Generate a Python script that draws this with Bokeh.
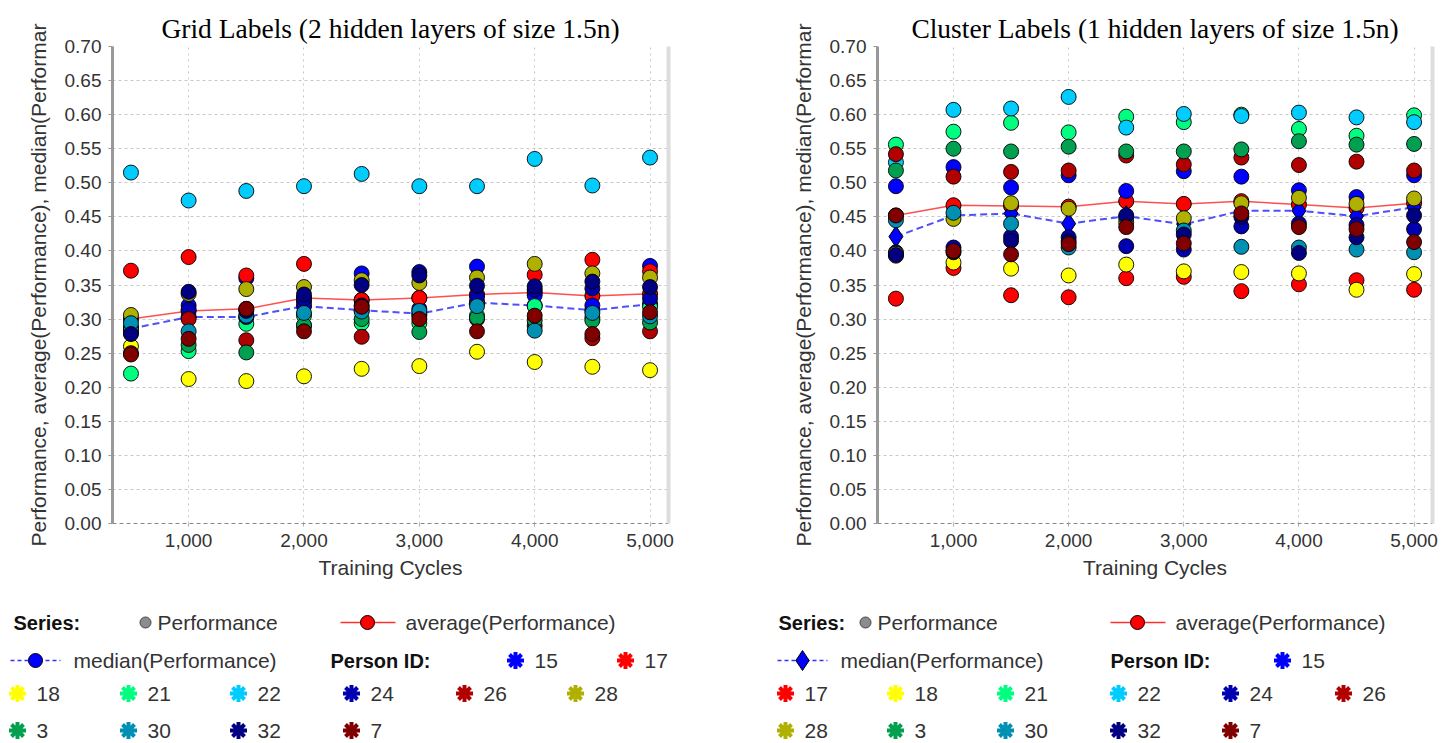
from bokeh.plotting import figure
from bokeh.layouts import row, column
from bokeh.models import Range1d, LinearAxis, FixedTicker, NumeralTickFormatter
from bokeh.core.properties import value
from bokeh.embed import file_html
from bokeh.resources import INLINE

# ---------------- data ----------------
cycles = [500, 1000, 1500, 2000, 2500, 3000, 3500, 4000, 4500, 5000]
persons = ["15", "17", "18", "21", "22", "24", "26", "28", "3", "30", "32", "7"]
person_colors = ["#0000ff", "#ff0000", "#ffff00", "#00ff80", "#00ccff", "#0000b0",
                 "#b00000", "#b0b000", "#00a050", "#0090b4", "#000080", "#800000"]

# Grid Labels (2 hidden layers)
g15 = [0.288, 0.320, 0.360, 0.325, 0.367, 0.315, 0.377, 0.335, 0.320, 0.378]
g17 = [0.371, 0.391, 0.364, 0.381, 0.328, 0.331, 0.325, 0.365, 0.387, 0.370]
g18 = [0.260, 0.212, 0.209, 0.216, 0.227, 0.231, 0.252, 0.237, 0.230, 0.225]
g21 = [0.220, 0.253, 0.293, 0.305, 0.294, 0.294, 0.305, 0.319, 0.302, 0.318]
g22 = [0.515, 0.474, 0.488, 0.495, 0.513, 0.495, 0.495, 0.535, 0.496, 0.537]
g24 = [0.280, 0.314, 0.303, 0.330, 0.320, 0.369, 0.333, 0.343, 0.345, 0.330]
g26 = [0.250, 0.300, 0.269, 0.290, 0.274, 0.305, 0.300, 0.290, 0.272, 0.282]
g28 = [0.306, 0.337, 0.344, 0.347, 0.357, 0.353, 0.361, 0.381, 0.367, 0.361]
g3 = [0.285, 0.262, 0.251, 0.291, 0.300, 0.281, 0.302, 0.298, 0.298, 0.295]
g30 = [0.294, 0.282, 0.305, 0.309, 0.311, 0.312, 0.319, 0.283, 0.309, 0.304]
g32 = [0.278, 0.340, 0.312, 0.336, 0.350, 0.364, 0.349, 0.348, 0.355, 0.347]
g7 = [0.248, 0.271, 0.315, 0.282, 0.318, 0.300, 0.282, 0.305, 0.278, 0.310]
g_avg = [0.300, 0.312, 0.315, 0.331, 0.328, 0.331, 0.336, 0.339, 0.334, 0.337]
g_med = [0.286, 0.303, 0.303, 0.319, 0.313, 0.308, 0.324, 0.320, 0.313, 0.322]

# Cluster Labels (1 hidden layer)
c15 = [0.495, 0.523, 0.493, 0.511, 0.488, 0.517, 0.509, 0.489, 0.479, 0.511]
c17 = [0.330, 0.375, 0.335, 0.332, 0.360, 0.362, 0.341, 0.351, 0.357, 0.343]
c18 = [0.393, 0.383, 0.374, 0.364, 0.380, 0.370, 0.369, 0.367, 0.343, 0.366]
c21 = [0.556, 0.575, 0.588, 0.574, 0.597, 0.589, 0.600, 0.579, 0.569, 0.599]
c22 = [0.530, 0.607, 0.609, 0.626, 0.581, 0.601, 0.598, 0.603, 0.596, 0.589]
c24 = [0.398, 0.405, 0.421, 0.420, 0.407, 0.402, 0.436, 0.440, 0.438, 0.432]
c26 = [0.542, 0.509, 0.516, 0.518, 0.540, 0.527, 0.537, 0.526, 0.531, 0.518]
c28 = [0.396, 0.447, 0.470, 0.462, 0.442, 0.448, 0.470, 0.478, 0.469, 0.477]
c3 = [0.518, 0.550, 0.546, 0.553, 0.546, 0.546, 0.549, 0.561, 0.556, 0.557]
c30 = [0.445, 0.456, 0.440, 0.405, 0.449, 0.430, 0.406, 0.405, 0.402, 0.398]
c32 = [0.394, 0.398, 0.415, 0.414, 0.452, 0.424, 0.450, 0.397, 0.420, 0.452]
c7 = [0.452, 0.400, 0.395, 0.410, 0.435, 0.411, 0.455, 0.435, 0.432, 0.413]
c_avg = [0.452, 0.467, 0.466, 0.465, 0.473, 0.469, 0.473, 0.468, 0.463, 0.470]
c_med = [0.421, 0.452, 0.455, 0.440, 0.451, 0.439, 0.459, 0.459, 0.451, 0.464]

x_ticks = [1000, 2000, 3000, 4000, 5000]
y_ticks = [round(i * 0.05, 2) for i in range(15)]

grid_series = [g15, g17, g18, g21, g22, g24, g26, g28, g3, g30, g32, g7]
cluster_series = [c15, c17, c18, c21, c22, c24, c26, c28, c3, c30, c32, c7]

TXT = "#333333"
FONT = "Liberation Sans"
YLABEL = "Performance, average(Performance), median(Performar"
PLOT_H = 590
LEG_H = 153


def make_plot(title, series, avg, med, med_marker, width, bl, br):
    p = figure(width=width, height=PLOT_H, output_backend="svg", toolbar_location=None,
               x_range=Range1d(340, 5160), y_range=Range1d(0, 0.70),
               min_border_left=bl, min_border_right=br, min_border_top=46,
               min_border_bottom=67, title=title)
    p.frame_align = False
    p.title.text_font = "Liberation Serif"
    p.title.text_font_size = "27.5px"
    p.title.text_font_style = "normal"
    p.title.text_color = "#000000"
    p.title.align = "center"
    p.title.vertical_align = "middle"
    p.title.standoff = 4
    p.outline_line_color = None
    p.background_fill_color = "white"
    p.border_fill_color = "white"

    xa = p.xaxis[0]
    xa.ticker = FixedTicker(ticks=x_ticks)
    xa.formatter = NumeralTickFormatter(format="0,0")
    xa.axis_label = "Training Cycles"
    xa.axis_line_color = "#888888"
    xa.axis_line_dash = "4 3"
    xa.axis_line_width = 1
    xa.major_tick_line_color = "#aaaaaa"
    xa.major_tick_out = 3
    xa.major_tick_in = 0
    xa.minor_tick_line_color = None
    xa.major_label_standoff = 7
    xa.axis_label_standoff = 6

    ya = p.yaxis[0]
    ya.ticker = FixedTicker(ticks=y_ticks)
    ya.formatter = NumeralTickFormatter(format="0.00")
    ya.axis_label = YLABEL
    ya.axis_line_color = "#999999"
    ya.axis_line_width = 3
    ya.major_tick_line_color = "#999999"
    ya.major_tick_out = 4
    ya.major_tick_in = 0
    ya.minor_tick_line_color = None
    ya.major_label_standoff = 7
    ya.axis_label_standoff = 12

    for ax in (xa, ya):
        ax.major_label_text_font = FONT
        ax.major_label_text_font_size = "19px"
        ax.major_label_text_color = TXT
        ax.axis_label_text_font = FONT
        ax.axis_label_text_font_size = "21px"
        ax.axis_label_text_font_style = "normal"
        ax.axis_label_text_color = TXT

    redge = LinearAxis(ticker=FixedTicker(ticks=[]), axis_line_color="#dddddd",
                       axis_line_width=4, major_tick_line_color=None,
                       minor_tick_line_color=None, major_label_text_font_size="0px",
                       major_label_standoff=0)
    p.add_layout(redge, "right")

    p.ygrid.grid_line_color = "#c8c8c8"
    p.ygrid.grid_line_dash = "3 3"
    p.xgrid.grid_line_color = "#c8c8c8"
    p.xgrid.grid_line_dash = "2 4"

    # aggregate lines (drawn beneath the person points)
    p.line(cycles, avg, line_color="#ff3030", line_width=1.5, line_alpha=0.85)
    p.scatter(cycles, avg, marker="circle", size=15, fill_color="#ff0000",
              line_color="black", line_width=1)
    p.line(cycles, med, line_color="#3030ff", line_width=2, line_dash="7 4", line_alpha=0.85)
    if med_marker == "diamond":
        p.scatter(cycles, med, marker="diamond", size=21, fill_color="#0000ff",
                  line_color="black", line_width=1)
    else:
        p.scatter(cycles, med, marker="circle", size=15, fill_color="#0000ff",
                  line_color="black", line_width=1)

    for vals, col in zip(series, person_colors):
        p.scatter(cycles, vals, marker="circle", size=15, fill_color=col,
                  line_color="black", line_width=1, line_alpha=0.9)
    return p


def make_legend(width, cols_x, series_x, perf_x, avg_x, med_x, pid_x, row2_ids,
                med_marker):
    H = LEG_H
    L = figure(width=width, height=H, output_backend="svg", toolbar_location=None,
               x_range=Range1d(0, width), y_range=Range1d(H, 0),
               min_border=0, min_border_left=0, min_border_right=0,
               min_border_top=0, min_border_bottom=0)
    L.frame_align = False
    L.axis.visible = False
    L.grid.visible = False
    L.outline_line_color = None
    L.background_fill_color = "white"
    L.border_fill_color = "white"

    r1, r2, r3, r4 = 32, 70, 103, 140
    fs = "21px"
    # Row 1
    L.text([series_x], [r1], text=["Series:"], text_font=value(FONT), text_font_size="20px",
           text_font_style="bold", text_baseline="middle", text_color="#111111")
    L.scatter([perf_x], [r1], marker="circle", size=11, fill_color="#8c8c8c",
              line_color="#444444", line_width=1)
    L.text([perf_x + 12], [r1], text=["Performance"], text_font=value(FONT),
           text_font_size=fs, text_baseline="middle", text_color=TXT)
    L.line([avg_x - 27, avg_x + 28], [r1, r1], line_color="#ff3030", line_width=1.5)
    L.scatter([avg_x], [r1], marker="circle", size=14, fill_color="#ff0000",
              line_color="black", line_width=1)
    L.text([avg_x + 38], [r1], text=["average(Performance)"], text_font=value(FONT),
           text_font_size=fs, text_baseline="middle", text_color=TXT)
    # Row 2
    L.line([med_x - 25, med_x + 25], [r2, r2], line_color="#3030ff", line_width=1.5,
           line_dash="4 3")
    if med_marker == "diamond":
        L.scatter([med_x], [r2], marker="diamond", size=20, fill_color="#0000ff",
                  line_color="black", line_width=1)
    else:
        L.scatter([med_x], [r2], marker="circle", size=14, fill_color="#0000ff",
                  line_color="black", line_width=1)
    L.text([med_x + 38], [r2], text=["median(Performance)"], text_font=value(FONT),
           text_font_size=fs, text_baseline="middle", text_color=TXT)
    L.text([pid_x], [r2], text=["Person ID:"], text_font=value(FONT), text_font_size="20px",
           text_font_style="bold", text_baseline="middle", text_color="#111111")

    xs, ys, labels, colors = [], [], [], []
    for i, (pid, col) in enumerate(zip(persons, person_colors)):
        if i < len(row2_ids):
            xs.append(row2_ids[i]); ys.append(r2)
        else:
            k = i - len(row2_ids)
            xs.append(cols_x[k % 6]); ys.append(r3 if k < 6 else r4)
        labels.append(pid); colors.append(col)
    L.scatter(xs, ys, marker="asterisk", size=17, line_color=colors, line_width=4)
    L.scatter(xs, ys, marker="circle", size=7, fill_color=colors, line_color=None)
    L.text([x + 19 for x in xs], ys, text=labels, text_font=value(FONT),
           text_font_size=fs, text_baseline="middle", text_color=TXT)
    return L


p1 = make_plot("Grid Labels (2 hidden layers of size 1.5n)", grid_series, g_avg, g_med,
               "circle", 768, 112, 100)
p2 = make_plot("Cluster Labels (1 hidden layers of size 1.5n)", cluster_series, c_avg,
               c_med, "diamond", 686, 109, 22)

leg1 = make_legend(768, [17, 128, 238, 351, 464, 575], 13, 145, 367, 35, 330,
                   [515, 625], "circle")
leg2 = make_legend(686, [17, 127, 237, 350, 462, 575], 10, 97, 369, 34, 342,
                   [514], "diamond")

layout = row(column(p1, leg1), column(p2, leg2))
open("out.html", "w").write(file_html(layout, INLINE))
